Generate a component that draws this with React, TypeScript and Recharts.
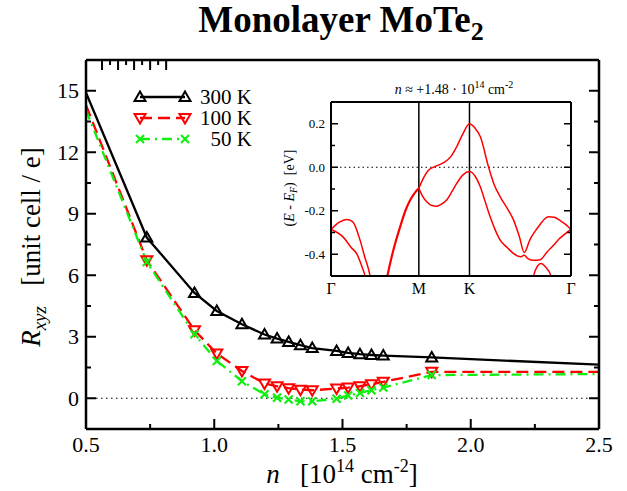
import React from "react";
import { LineChart, Line, XAxis, YAxis, ReferenceLine, Legend } from "recharts";

const SERIF = "'Liberation Serif', 'Times New Roman', Times, serif";
const serif = { fontFamily: SERIF };

// carrier density n [10^14 cm^-2]
const densities = [0.5, 0.737, 0.923, 1.01, 1.108, 1.196, 1.245, 1.29, 1.336, 1.382, 1.477, 1.522, 1.568, 1.613, 1.659, 1.848, 2.5];
// R_xyz [unit cell / e]
const hall300K = [14.9, 7.84, 5.14, 4.26, 3.61, 3.11, 2.91, 2.75, 2.59, 2.45, 2.31, 2.21, 2.15, 2.11, 2.08, 1.99, 1.64];
const hall100K = [14.3, 6.73, 3.32, 2.18, 1.33, 0.72, 0.585, 0.49, 0.42, 0.39, 0.47, 0.52, 0.585, 0.68, 0.8, 1.29, 1.29];
const hall50K = [14.05, 6.65, 3.12, 1.82, 0.83, 0.195, 0.03, -0.06, -0.15, -0.15, -0.02, 0.13, 0.26, 0.39, 0.52, 1.13, 1.18];

const xMajor = [0.5, 1.0, 1.5, 2.0, 2.5];
const xMinor = [0.75, 1.25, 1.75, 2.25];
const yMajor = [0, 3, 6, 9, 12, 15];
const yMinor = [-1.5, 1.5, 4.5, 7.5, 10.5, 13.5, 16.5];

// inset: bands along Γ-M-K-Γ (k as fraction of the path), E - E_F in eV
const kPoints = [0, 0.366, 0.577, 1];
const kLabels = ["Γ", "M", "K", "Γ"];
const eMajor = [0.2, 0.0, -0.2, -0.4];
const eMinor = [0.1, -0.1, -0.3];

const bandGammaA = [[0, -0.286], [0.035, -0.252], [0.065, -0.24], [0.09, -0.25], [0.121, -0.335], [0.14, -0.41], [0.163, -0.5], [0.175, -0.58]];
const bandGammaB = [[0, -0.286], [0.05, -0.32], [0.085, -0.37], [0.107, -0.397], [0.13, -0.46], [0.142, -0.5], [0.155, -0.58]];
// doubly degenerate branch rising to M
const bandToM = [[0.225, -0.56], [0.235, -0.5], [0.26, -0.38], [0.288, -0.274], [0.31, -0.2], [0.33, -0.151], [0.35, -0.117], [0.366, -0.097]];
const bandUpper = [
  [0.366, -0.097], [0.385, -0.05], [0.405, -0.015], [0.43, 0.002], [0.469, 0.021], [0.5, 0.05], [0.524, 0.095],
  [0.55, 0.155], [0.577, 0.2], [0.6, 0.18], [0.622, 0.141], [0.656, 0.003], [0.68, -0.08], [0.705, -0.136],
  [0.735, -0.19], [0.761, -0.243], [0.785, -0.32], [0.805, -0.392], [0.83, -0.33], [0.85, -0.295], [0.872, -0.262],
  [0.89, -0.238], [0.907, -0.228], [0.93, -0.23], [0.955, -0.245], [0.98, -0.265], [1, -0.286],
];
const bandLower = [
  [0.366, -0.097], [0.38, -0.13], [0.4, -0.16], [0.42, -0.176], [0.44, -0.179], [0.46, -0.17], [0.482, -0.151],
  [0.505, -0.11], [0.524, -0.074], [0.55, -0.035], [0.577, -0.02], [0.6, -0.04], [0.622, -0.09], [0.643, -0.16],
  [0.663, -0.228], [0.685, -0.29], [0.705, -0.335], [0.735, -0.37], [0.761, -0.397], [0.789, -0.412], [0.805, -0.405],
  [0.82, -0.42], [0.845, -0.428], [0.872, -0.425], [0.9, -0.39], [0.927, -0.359], [0.95, -0.33], [0.969, -0.312], [1, -0.286],
];
const bandSmall = [[0.832, -0.58], [0.844, -0.5], [0.86, -0.455], [0.875, -0.443], [0.895, -0.46], [0.917, -0.5], [0.93, -0.58]];

const bands = [
  { pts: bandGammaA, w: 1.5 },
  { pts: bandGammaB, w: 1.5 },
  { pts: bandToM, w: 2.2 },
  { pts: bandUpper, w: 1.5 },
  { pts: bandLower, w: 1.5 },
  { pts: bandSmall, w: 1.5 },
];

const series = [
  { key: "t300", name: "300 K", color: "#000000", dash: undefined, shape: "up" },
  { key: "t100", name: "100 K", color: "#ff0000", dash: "12 6", shape: "down" },
  { key: "t50", name: "50 K", color: "#11ee11", dash: "10 5 2 5", shape: "cross" },
];

const rows = densities.map((n, i) => ({ n, t300: hall300K[i], t100: hall100K[i], t50: hall50K[i] }));

function MarkShape({ shape, x, y, color }: any) {
  if (shape === "up")
    return <path d={`M${x},${y - 5.5}L${x + 5.5},${y + 4}L${x - 5.5},${y + 4}Z`} fill="none" stroke={color} strokeWidth={2} />;
  if (shape === "down")
    return <path d={`M${x},${y + 5.5}L${x + 5.5},${y - 4}L${x - 5.5},${y - 4}Z`} fill="none" stroke={color} strokeWidth={2} />;
  return (
    <path d={`M${x - 4},${y - 4}L${x + 4},${y + 4}M${x + 4},${y - 4}L${x - 4},${y + 4}`} stroke={color} strokeWidth={2.2} />
  );
}

const markerDot = (shape: string, color: string) => (p: any) => {
  const { cx, cy, index } = p;
  if (index === 0 || index === densities.length - 1 || cx == null) return <g key={`m-${index}`} />;
  return <MarkShape key={`m-${index}`} shape={shape} x={cx} y={cy} color={color} />;
};

const legendContent = () => (
  <svg width={150} height={70} style={{ overflow: "visible" }}>
    {series.map((s, i) => {
      const y = 15 + i * 21;
      return (
        <g key={s.key}>
          <line x1={20} x2={65} y1={y} y2={y} stroke={s.color} strokeWidth={2.3} strokeDasharray={s.dash} />
          <MarkShape shape={s.shape} x={20} y={y} color={s.color} />
          <MarkShape shape={s.shape} x={65} y={y} color={s.color} />
          <text x={132} y={y + 7} textAnchor="end" style={serif} fontSize={21} fill="#000">
            {s.name}
          </text>
        </g>
      );
    })}
  </svg>
);

// main chart ticks, pointing inward
const bottomTick = (p: any) => {
  const v = p.payload.value;
  const major = xMajor.includes(v);
  return (
    <g>
      <line x1={p.x} x2={p.x} y1={p.y} y2={p.y - (major ? 10 : 5)} stroke="#000" strokeWidth={2} />
      {major && (
        <text x={p.x} y={p.y + 23} textAnchor="middle" style={serif} fontSize={22} fill="#000">
          {v.toFixed(1)}
        </text>
      )}
    </g>
  );
};
const topTick = (p: any) => {
  const major = xMajor.includes(p.payload.value);
  return <line x1={p.x} x2={p.x} y1={p.y} y2={p.y + (major ? 10 : 5)} stroke="#000" strokeWidth={2} />;
};
const leftTick = (p: any) => {
  const v = p.payload.value;
  const major = yMajor.includes(v);
  return (
    <g>
      <line x1={p.x} x2={p.x + (major ? 10 : 5)} y1={p.y} y2={p.y} stroke="#000" strokeWidth={2} />
      {major && (
        <text x={p.x - 7} y={p.y + 7.5} textAnchor="end" style={serif} fontSize={22} fill="#000">
          {v}
        </text>
      )}
    </g>
  );
};
const rightTick = (p: any) => {
  const major = yMajor.includes(p.payload.value);
  return <line x1={p.x} x2={p.x - (major ? 10 : 5)} y1={p.y} y2={p.y} stroke="#000" strokeWidth={2} />;
};

const TitleText = () => (
  <text x={341} y={32} textAnchor="middle" style={serif} fontWeight="bold" fontSize={37} fill="#000">
    Monolayer MoTe
    <tspan dy={8} fontSize={26}>2</tspan>
  </text>
);
const XLabelText = () => (
  <text x={342} y={483} textAnchor="middle" style={serif} fontSize={27} fill="#000">
    <tspan fontStyle="italic">n</tspan>
    <tspan>{"\u00a0\u00a0\u00a0[10"}</tspan>
    <tspan dy={-11} fontSize={18}>14</tspan>
    <tspan dy={11}>{"\u00a0cm"}</tspan>
    <tspan dy={-11} fontSize={18}>-2</tspan>
    <tspan dy={11}>]</tspan>
  </text>
);
const YLabelText = () => (
  <text x={40} y={247} transform="rotate(-90, 40, 247)" textAnchor="middle" style={serif} fontSize={27} fill="#000">
    <tspan fontStyle="italic">R</tspan>
    <tspan fontStyle="italic" fontSize={19} dy={6}>xyz</tspan>
    <tspan dy={-6}>{"\u00a0\u00a0\u00a0[unit cell / e]"}</tspan>
  </text>
);

// inset ticks
const insetLeftTick = (p: any) => {
  const v = p.payload.value;
  const major = eMajor.includes(v);
  return (
    <g>
      <line x1={p.x} x2={p.x + (major ? 7 : 4)} y1={p.y} y2={p.y} stroke="#000" strokeWidth={1.5} />
      {major && (
        <text x={p.x - 6} y={p.y + 4.5} textAnchor="end" style={serif} fontSize={13} fill="#000">
          {v.toFixed(1)}
        </text>
      )}
    </g>
  );
};
const insetRightTick = (p: any) => {
  const major = eMajor.includes(p.payload.value);
  return <line x1={p.x} x2={p.x - (major ? 7 : 4)} y1={p.y} y2={p.y} stroke="#000" strokeWidth={1.5} />;
};
const insetBottomTick = (p: any) => {
  const i = kPoints.indexOf(p.payload.value);
  return (
    <text x={p.x} y={p.y + 17.5} textAnchor="middle" style={serif} fontSize={16} fill="#000">
      {kLabels[i]}
    </text>
  );
};
const InsetTitle = () => (
  <text x={174} y={24} textAnchor="middle" style={serif} fontSize={14} fill="#000">
    <tspan fontStyle="italic">n</tspan>
    <tspan>{"\u00a0≈ +1.48 · 10"}</tspan>
    <tspan dy={-6} fontSize={10}>14</tspan>
    <tspan dy={6}>{"\u00a0cm"}</tspan>
    <tspan dy={-6} fontSize={10}>-2</tspan>
  </text>
);
const InsetYLabel = () => (
  <text x={14} y={118} transform="rotate(-90, 14, 118)" textAnchor="middle" style={serif} fontSize={14} fill="#000">
    <tspan>(</tspan>
    <tspan fontStyle="italic">E</tspan>
    <tspan>{"\u00a0-\u00a0"}</tspan>
    <tspan fontStyle="italic">E</tspan>
    <tspan fontStyle="italic" fontSize={10} dy={3}>F</tspan>
    <tspan dy={-3}>{")\u00a0\u00a0[eV]"}</tspan>
  </text>
);

function BandInset() {
  return (
    <LineChart width={310} height={235} margin={{ top: 31, right: 18, bottom: 28, left: 50 }}>
      <XAxis
        xAxisId="b"
        dataKey="k"
        type="number"
        domain={[0, 1]}
        allowDataOverflow
        ticks={kPoints}
        interval={0}
        height={1}
        tickSize={0}
        tickMargin={0}
        tickLine={false}
        tick={insetBottomTick}
        axisLine={{ stroke: "#000", strokeWidth: 2 }}
        label={<InsetTitle />}
      />
      <XAxis
        xAxisId="t"
        orientation="top"
        type="number"
        domain={[0, 1]}
        allowDataOverflow
        ticks={kPoints}
        height={1}
        tickSize={0}
        tick={() => <g />}
        tickLine={false}
        axisLine={{ stroke: "#000", strokeWidth: 2 }}
      />
      <YAxis
        yAxisId="l"
        type="number"
        domain={[-0.5, 0.3]}
        allowDataOverflow
        ticks={[...eMajor, ...eMinor]}
        interval={0}
        width={1}
        tickSize={0}
        tickMargin={0}
        tickLine={false}
        tick={insetLeftTick}
        axisLine={{ stroke: "#000", strokeWidth: 2 }}
        label={<InsetYLabel />}
      />
      <YAxis
        yAxisId="r"
        orientation="right"
        type="number"
        domain={[-0.5, 0.3]}
        allowDataOverflow
        ticks={[...eMajor, ...eMinor]}
        interval={0}
        width={1}
        tickSize={0}
        tickMargin={0}
        tickLine={false}
        tick={insetRightTick}
        axisLine={{ stroke: "#000", strokeWidth: 2 }}
      />
      <ReferenceLine xAxisId="b" yAxisId="l" y={0} stroke="#000" strokeWidth={1} strokeDasharray="1.5 3" />
      <ReferenceLine xAxisId="b" yAxisId="l" x={kPoints[1]} stroke="#000" strokeWidth={1.5} />
      <ReferenceLine xAxisId="b" yAxisId="l" x={kPoints[2]} stroke="#000" strokeWidth={1.5} />
      {bands.map((band, i) => (
        <Line
          key={`band-${i}`}
          xAxisId="b"
          yAxisId="l"
          data={band.pts.map(([k, e]) => ({ k, e }))}
          dataKey="e"
          type="monotone"
          stroke="#ff0000"
          strokeWidth={band.w}
          dot={false}
          isAnimationActive={false}
        />
      ))}
    </LineChart>
  );
}

export default function App() {
  return (
    <div style={{ position: "absolute", left: 0, top: 0, width: 627, height: 491, background: "#fff", fontFamily: SERIF }}>
      <LineChart width={627} height={491} data={rows} margin={{ top: 59, right: 27, bottom: 61, left: 85 }}>
        <XAxis
          xAxisId="b"
          dataKey="n"
          type="number"
          domain={[0.5, 2.5]}
          allowDataOverflow
          ticks={[...xMajor, ...xMinor]}
          interval={0}
          height={1}
          tickSize={0}
          tickMargin={0}
          tickLine={false}
          tick={bottomTick}
          axisLine={{ stroke: "#000", strokeWidth: 2.5 }}
          label={<XLabelText />}
        />
        <XAxis
          xAxisId="t"
          orientation="top"
          type="number"
          domain={[0.5, 2.5]}
          allowDataOverflow
          ticks={[...xMajor, ...xMinor]}
          interval={0}
          height={1}
          tickSize={0}
          tickMargin={0}
          tickLine={false}
          tick={topTick}
          axisLine={{ stroke: "#000", strokeWidth: 2.5 }}
          label={<TitleText />}
        />
        <YAxis
          yAxisId="l"
          type="number"
          domain={[-1.5, 16.5]}
          allowDataOverflow
          ticks={[...yMajor, ...yMinor]}
          interval={0}
          width={1}
          tickSize={0}
          tickMargin={0}
          tickLine={false}
          tick={leftTick}
          axisLine={{ stroke: "#000", strokeWidth: 2.5 }}
          label={<YLabelText />}
        />
        <YAxis
          yAxisId="r"
          orientation="right"
          type="number"
          domain={[-1.5, 16.5]}
          allowDataOverflow
          ticks={[...yMajor, ...yMinor]}
          interval={0}
          width={1}
          tickSize={0}
          tickMargin={0}
          tickLine={false}
          tick={rightTick}
          axisLine={{ stroke: "#000", strokeWidth: 2.5 }}
        />
        <ReferenceLine xAxisId="b" yAxisId="l" y={0} stroke="#000" strokeWidth={1.2} strokeDasharray="1.5 3.5" />
        <Legend
          content={legendContent}
          layout="horizontal"
          verticalAlign="middle"
          align="center"
          wrapperStyle={{ left: 120, top: 82, width: 150, height: 70 }}
        />
        {series.map((s) => (
          <Line
            key={s.key}
            xAxisId="b"
            yAxisId="l"
            dataKey={s.key}
            name={s.name}
            type="linear"
            stroke={s.color}
            strokeWidth={2.3}
            strokeDasharray={s.dash}
            dot={markerDot(s.shape, s.color)}
            activeDot={false}
            isAnimationActive={false}
          />
        ))}
      </LineChart>
      <div style={{ position: "absolute", left: 280, top: 70, width: 310, height: 235 }}>
        <BandInset />
      </div>
    </div>
  );
}
